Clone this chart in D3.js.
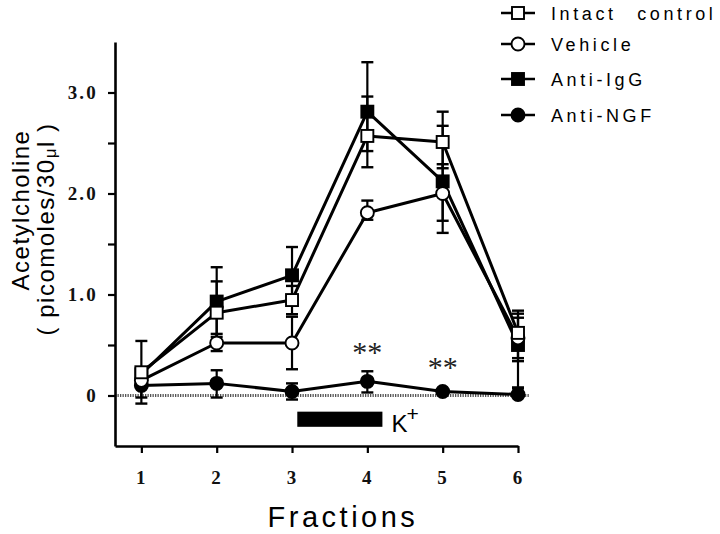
<!DOCTYPE html>
<html>
<head>
<meta charset="utf-8">
<script src="https://cdn.jsdelivr.net/npm/d3@7"></script>
<style>
  html, body { margin: 0; padding: 0; background: #fff; overflow: hidden; }
  svg { display: block; }
</style>
</head>
<body>
<svg id="chart" width="720" height="534"></svg>
<script>
// ---------- data ----------
const fractions = [1, 2, 3, 4, 5, 6];
const xTickLabels = ["1", "2", "3", "4", "5", "6"];
const yTickValues = [0, 0.5, 1, 1.5, 2, 2.5, 3];
const yLabelValues = [0, 1, 2, 3];
const yLabelTexts = ["0", "1.0", "2.0", "3.0"];

const seriesNames = ["Intact control", "Vehicle", "Anti-IgG", "Anti-NGF"];

const intactValues  = [0.23, 0.82, 0.945, 2.57, 2.51, 0.62];
const intactErrHi   = [0.31, 0.31, 0.14, 0.39, 0.30, 0.22];
const intactErrLo   = [0.31, 0.31, 0.14, 0.15, 0.26, 0.28];

const vehicleValues = [0.15, 0.52, 0.52, 1.81, 2.00, 0.57];
const vehicleErrHi  = [0.05, 0.09, 0.26, 0.12, 0.29, 0.20];
const vehicleErrLo  = [0.05, 0.08, 0.26, 0.07, 0.27, 0.20];

const antiIgGValues = [0.21, 0.93, 1.19, 2.81, 2.12, 0.50];
const antiIgGErrHi  = [0.05, 0.34, 0.28, 0.49, 0.55, 0.31];
const antiIgGErrLo  = [0.05, 0.35, 0.28, 0.55, 0.51, 0.43];

const antiNGFValues = [0.10, 0.12, 0.04, 0.14, 0.04, 0.01];
const antiNGFErrHi  = [0.12, 0.13, 0.08, 0.10, 0.01, 0.07];
const antiNGFErrLo  = [0.12, 0.14, 0.08, 0.11, 0.01, 0.02];

// significance annotations and K+ stimulation period
const starFractions = [4, 5];
const starLevels = [0.33, 0.18];
const kStart = 3.07, kEnd = 4.2, kTop = -0.16, kBottom = -0.31;

// ---------- setup ----------
const svg = d3.select("#chart");
const x = d3.scaleLinear().domain([0.65, 6]).range([115, 518]);
const y = d3.scaleLinear().domain([-0.5, 3.5]).range([446, 42]);

const series = [
  { name: seriesNames[0], values: intactValues,  hi: intactErrHi,  lo: intactErrLo,  shape: "square", fill: "#fff" },
  { name: seriesNames[1], values: vehicleValues, hi: vehicleErrHi, lo: vehicleErrLo, shape: "circle", fill: "#fff" },
  { name: seriesNames[2], values: antiIgGValues, hi: antiIgGErrHi, lo: antiIgGErrLo, shape: "square", fill: "#000" },
  { name: seriesNames[3], values: antiNGFValues, hi: antiNGFErrHi, lo: antiNGFErrLo, shape: "circle", fill: "#000" }
];
// drawing order (last on top)
const drawOrder = [3, 2, 1, 0];

function drawMarker(g, shape, fill, cx, cy) {
  if (shape === "square") {
    g.append("rect").attr("x", cx - 6).attr("y", cy - 6)
      .attr("width", 12).attr("height", 12)
      .attr("fill", fill).attr("stroke", "#000").attr("stroke-width", 1.9);
  } else {
    g.append("circle").attr("cx", cx).attr("cy", cy).attr("r", 6.5)
      .attr("fill", fill).attr("stroke", "#000").attr("stroke-width", 1.9);
  }
}

// ---------- zero reference line ----------
svg.append("line")
  .attr("x1", x(0.65)).attr("x2", 530)
  .attr("y1", y(0)).attr("y2", y(0))
  .attr("stroke", "#555").attr("stroke-width", 3)
  .attr("stroke-dasharray", "1.3 1.2");

// ---------- axes ----------
const yAxis = d3.axisLeft(y)
  .tickValues(yTickValues)
  .tickSize(7).tickSizeOuter(0).tickPadding(10)
  .tickFormat(d => { const i = yLabelValues.indexOf(d); return i >= 0 ? yLabelTexts[i] : ""; });
const gy = svg.append("g").attr("transform", `translate(${x(0.65)},0)`).call(yAxis);

const xAxis = d3.axisBottom(x)
  .tickValues(fractions)
  .tickSize(7).tickSizeOuter(0).tickPadding(18)
  .tickFormat((d, i) => xTickLabels[i]);
const gx = svg.append("g").attr("transform", `translate(0,${y(-0.5)})`).call(xAxis);

[gx, gy].forEach(g => {
  g.select(".domain").attr("stroke", "#000").attr("stroke-width", 2.6);
  g.selectAll(".tick line").attr("stroke", "#000").attr("stroke-width", 2.2);
  g.selectAll(".tick text")
    .attr("fill", "#111")
    .style("font-family", "'Liberation Serif', 'DejaVu Serif', serif")
    .style("font-size", "19px")
    .style("font-weight", "bold")
    .style("letter-spacing", "2.2px");
});

// ---------- error bars ----------
const eg = svg.append("g");
drawOrder.forEach(si => {
  const s = series[si];
  fractions.forEach((f, i) => {
    const cx = x(f);
    const top = y(s.values[i] + s.hi[i]);
    const bot = y(s.values[i] - s.lo[i]);
    eg.append("line").attr("x1", cx).attr("x2", cx).attr("y1", top).attr("y2", bot)
      .attr("stroke", "#000").attr("stroke-width", 2.2);
    [top, bot].forEach(cy => {
      eg.append("line").attr("x1", cx - 6).attr("x2", cx + 6).attr("y1", cy).attr("y2", cy)
        .attr("stroke", "#000").attr("stroke-width", 2.4);
    });
  });
});

// ---------- lines and markers ----------
const line = d3.line().x((d, i) => x(fractions[i])).y(d => y(d));
drawOrder.forEach(si => {
  const s = series[si];
  const g = svg.append("g");
  g.append("path").attr("d", line(s.values))
    .attr("fill", "none").attr("stroke", "#000").attr("stroke-width", 3)
    .attr("stroke-linejoin", "round");
  s.values.forEach((v, i) => drawMarker(g, s.shape, s.fill, x(fractions[i]), y(v)));
});

// ---------- significance stars ----------
starFractions.forEach((f, i) => {
  svg.append("text")
    .attr("x", x(f)).attr("y", y(starLevels[i]))
    .attr("text-anchor", "middle")
    .style("font-family", "'Liberation Serif', 'DejaVu Serif', serif")
    .style("font-size", "30px")
    .attr("fill", "#222")
    .text("**");
});

// ---------- K+ bar ----------
svg.append("rect")
  .attr("x", x(kStart)).attr("y", y(kTop))
  .attr("width", x(kEnd) - x(kStart)).attr("height", y(kBottom) - y(kTop))
  .attr("fill", "#000");
const kt = svg.append("text")
  .attr("x", x(kEnd) + 9).attr("y", y(kBottom) + 5)
  .style("font-family", "'Liberation Sans', Arial, sans-serif")
  .style("font-size", "24px")
  .attr("fill", "#000");
kt.append("tspan").text("K");
kt.append("tspan").attr("dy", -11).attr("dx", -1).style("font-size", "21px").text("+");

// ---------- axis titles ----------
svg.append("text")
  .attr("x", 343).attr("y", 527)
  .attr("text-anchor", "middle")
  .style("font-family", "'Liberation Sans', Arial, sans-serif")
  .style("font-size", "29px")
  .style("letter-spacing", "3.5px")
  .attr("fill", "#000")
  .text("Fractions");

svg.append("text")
  .attr("transform", "translate(29,210) rotate(-90)")
  .attr("text-anchor", "middle")
  .style("font-family", "'Liberation Sans', Arial, sans-serif")
  .style("font-size", "24px")
  .style("letter-spacing", "1.5px")
  .attr("fill", "#000")
  .text("Acetylcholine");

const yt2 = svg.append("text")
  .attr("transform", "translate(54,229) rotate(-90)")
  .attr("text-anchor", "middle")
  .style("font-family", "'Liberation Sans', Arial, sans-serif")
  .style("font-size", "24px")
  .style("letter-spacing", "1.5px")
  .attr("fill", "#000");
yt2.append("tspan").text("( picomoles/30");
yt2.append("tspan").style("font-size", "17px").attr("dy", 2).text("μ");
yt2.append("tspan").attr("dy", -2).text("l )");

// ---------- legend ----------
const legendY = [13, 44, 79, 115];
series.forEach((s, i) => {
  const g = svg.append("g");
  g.append("line").attr("x1", 501).attr("x2", 535).attr("y1", legendY[i]).attr("y2", legendY[i])
    .attr("stroke", "#000").attr("stroke-width", 2.4);
  drawMarker(g, s.shape, s.fill, 518, legendY[i]);
  g.append("text")
    .attr("x", 551).attr("y", legendY[i] + 6.5)
    .style("font-family", "'Liberation Sans', Arial, sans-serif")
    .style("font-size", "18px")
    .style("letter-spacing", "3.6px")
    .style("word-spacing", "12px")
    .attr("fill", "#000")
    .text(s.name);
});
</script>
</body>
</html>
